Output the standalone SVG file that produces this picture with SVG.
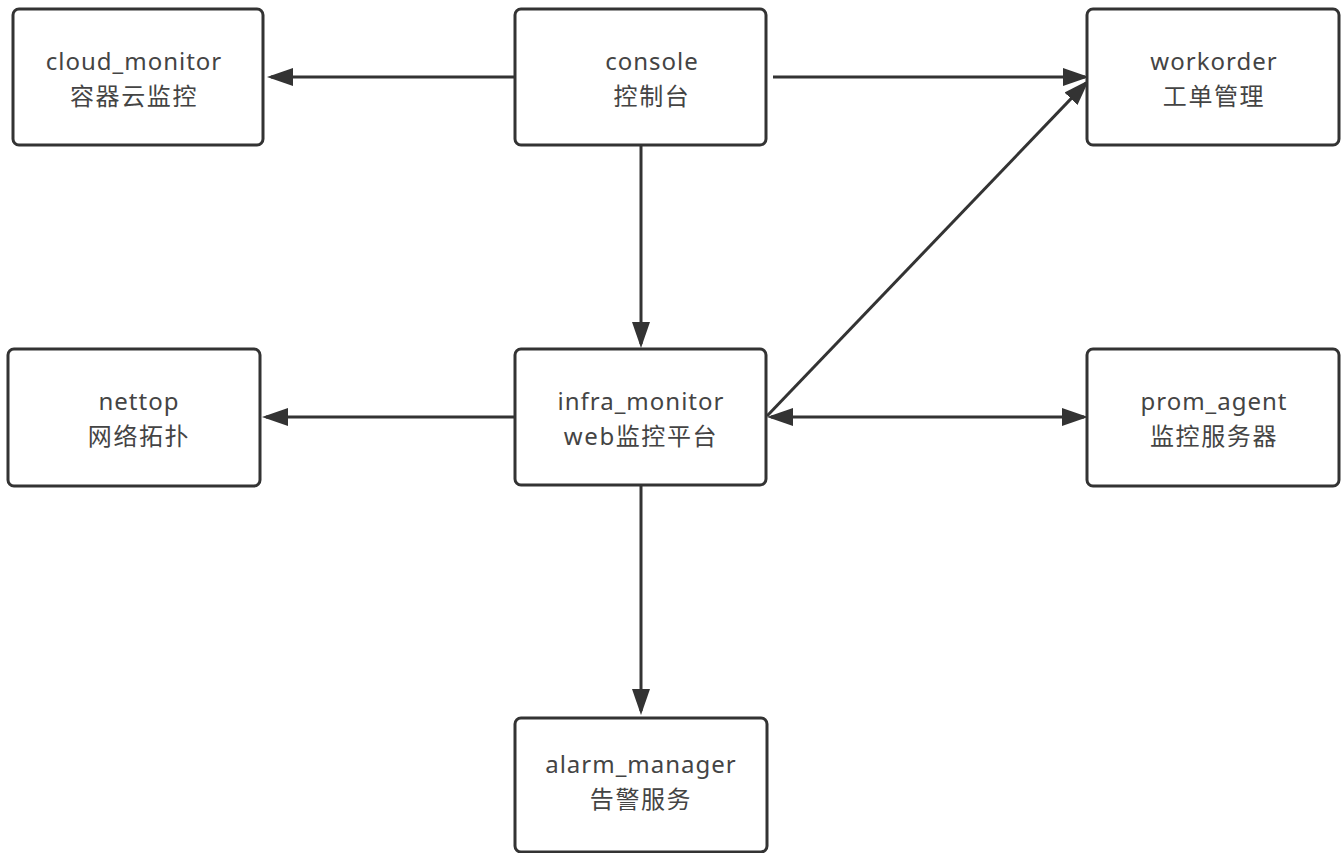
<svg xmlns="http://www.w3.org/2000/svg" width="1343" height="853" viewBox="0 0 1343 853">
<style>
.box{fill:#fff;stroke:#333;stroke-width:3}
.lbl{font-family:"Noto Sans","Noto Sans CJK SC",sans-serif;font-size:24px;fill:#444;text-anchor:middle;letter-spacing:1px}
.cn{letter-spacing:1.6px}
.edge{fill:none;stroke:#333;stroke-width:3}
</style>
<defs>
<marker id="ah" markerUnits="userSpaceOnUse" markerWidth="26" markerHeight="18" refX="22" refY="9" orient="auto-start-reverse" viewBox="0 0 26 18">
<path d="M0,0 L26,9 L0,18 Z" fill="#333"/>
</marker>
</defs>
<rect width="1343" height="853" fill="#fff"/>
<g id="connectors">
<line class="edge" x1="515" y1="77" x2="271" y2="77" marker-end="url(#ah)"/>
<line class="edge" x1="773" y1="77" x2="1085" y2="77" marker-end="url(#ah)"/>
<line class="edge" x1="641" y1="145" x2="641" y2="344" marker-end="url(#ah)"/>
<line class="edge" x1="767" y1="416" x2="1086.2" y2="82.9" marker-end="url(#ah)"/>
<line class="edge" x1="771" y1="417" x2="1084" y2="417" marker-start="url(#ah)" marker-end="url(#ah)"/>
<line class="edge" x1="515" y1="417" x2="266" y2="417" marker-end="url(#ah)"/>
<line class="edge" x1="641" y1="486" x2="641" y2="711" marker-end="url(#ah)"/>
</g>
<g id="cloud_monitor">
<rect class="box" x="13" y="9" width="250" height="136" rx="6"/>
<text class="lbl" x="134" y="70">cloud_monitor</text>
<text class="lbl cn" x="134" y="105">容器云监控</text>
</g>
<g id="console">
<rect class="box" x="515" y="9" width="251" height="136" rx="6"/>
<text class="lbl" x="652" y="70">console</text>
<text class="lbl cn" x="652" y="105">控制台</text>
</g>
<g id="workorder">
<rect class="box" x="1087" y="9" width="252" height="136" rx="6"/>
<text class="lbl" x="1214" y="70">workorder</text>
<text class="lbl cn" x="1214" y="105">工单管理</text>
</g>
<g id="nettop">
<rect class="box" x="8" y="349" width="252" height="137" rx="6"/>
<text class="lbl" x="139" y="410">nettop</text>
<text class="lbl cn" x="139" y="445">网络拓扑</text>
</g>
<g id="infra_monitor">
<rect class="box" x="515" y="349" width="251" height="136" rx="6"/>
<text class="lbl" x="641" y="410">infra_monitor</text>
<text class="lbl cn" x="641" y="445">web监控平台</text>
</g>
<g id="prom_agent">
<rect class="box" x="1087" y="349" width="252" height="137" rx="6"/>
<text class="lbl" x="1214" y="410">prom_agent</text>
<text class="lbl cn" x="1214" y="445">监控服务器</text>
</g>
<g id="alarm_manager">
<rect class="box" x="515" y="718" width="252" height="134" rx="6"/>
<text class="lbl" x="641" y="773">alarm_manager</text>
<text class="lbl cn" x="641" y="808">告警服务</text>
</g>
</svg>
